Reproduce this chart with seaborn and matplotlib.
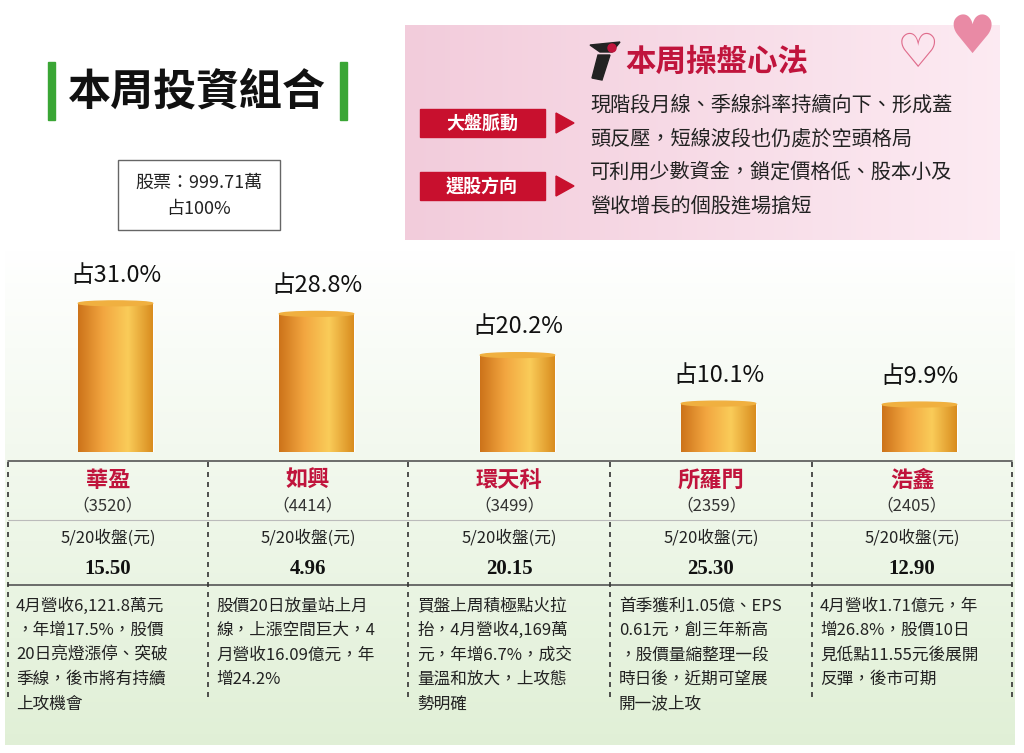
import matplotlib
matplotlib.use("Agg")
import matplotlib.pyplot as plt
import seaborn as sns
import numpy as np
import pandas as pd
from matplotlib.patches import Rectangle, Ellipse, Polygon, Circle

sns.set_theme(style="white")
plt.rcParams['font.family'] = ['Noto Sans CJK TC', 'DejaVu Sans']

names = ["華盈", "如興", "環天科", "所羅門", "浩鑫"]
codes = ["3520", "4414", "3499", "2359", "2405"]
shares = [31.0, 28.8, 20.2, 10.1, 9.9]
prices = ["15.50", "4.96", "20.15", "25.30", "12.90"]
notes = [
    ["4月營收6,121.8萬元", "，年增17.5%，股價", "20日亮燈漲停、突破", "季線，後市將有持續", "上攻機會"],
    ["股價20日放量站上月", "線，上漲空間巨大，4", "月營收16.09億元，年", "增24.2%"],
    ["買盤上周積極點火拉", "抬，4月營收4,169萬", "元，年增6.7%，成交", "量溫和放大，上攻態", "勢明確"],
    ["首季獲利1.05億、EPS", "0.61元，創三年新高", "，股價量縮整理一段", "時日後，近期可望展", "開一波上攻"],
    ["4月營收1.71億元，年", "增26.8%，股價10日", "見低點11.55元後展開", "反彈，後市可期"],
]
strategy_lines = ["現階段月線、季線斜率持續向下、形成蓋", "頭反壓，短線波段也仍處於空頭格局",
                  "可利用少數資金，鎖定價格低、股本小及", "營收增長的個股進場搶短"]

W, H = 1024, 753
fig = plt.figure(figsize=(W/100, H/100), dpi=100)
bg = fig.add_axes([0, 0, 1, 1])
bg.set_xlim(0, W); bg.set_ylim(H, 0); bg.axis("off")

grad = np.linspace(0, 1, 256)[:, None]
top = np.array([1, 1, 1]); bot = np.array([0.88, 0.94, 0.84])
cols = top + (bot - top) * grad[..., None]
bg.imshow(cols, extent=[5, 1015, 745, 250], aspect="auto", zorder=0)

bg.add_patch(Rectangle((48, 62), 7, 58, color="#3aa635"))
bg.add_patch(Rectangle((340, 62), 7, 58, color="#3aa635"))
bg.text(197, 92, "本周投資組合", fontsize=31, fontweight="bold", ha="center", va="center", color="#111")

bg.add_patch(Rectangle((118, 160), 162, 70, fill=False, ec="#666", lw=1))
bg.text(199, 183, "股票：999.71萬", fontsize=13, ha="center", va="center", color="#222")
bg.text(199, 209, "占100%", fontsize=13, ha="center", va="center", color="#222")

pk = np.linspace(0, 1, 256)[None, :]
c0 = np.array([0.95, 0.80, 0.86]); c1 = np.array([0.99, 0.92, 0.95])
pc = c0 + (c1 - c0) * pk[..., None]
bg.imshow(pc, extent=[405, 1000, 240, 25], aspect="auto", zorder=1)
bg.text(625, 62, "本周操盤心法", fontsize=22, fontweight="bold", color="#c0143c", ha="left", va="center", zorder=3)
# small icon drawn as shapes
bg.add_patch(Polygon([[590, 45], [620, 42], [612, 52], [600, 52]], color="#222", zorder=3))
bg.add_patch(Polygon([[598, 55], [610, 55], [602, 80], [592, 78]], color="#222", zorder=3))
bg.add_patch(Circle((612, 48), 4, color="#c0143c", zorder=4))
bg.text(918, 55, "♡", fontsize=34, color="#e06c8c", ha="center", va="center", zorder=3, family=["DejaVu Sans"])
bg.text(972, 38, "♥", fontsize=38, color="#e98aa5", ha="center", va="center", zorder=3, family=["DejaVu Sans"])
for y, lab in [(123, "大盤脈動"), (186, "選股方向")]:
    bg.add_patch(Rectangle((420, y-14), 125, 28, color="#c8102e", zorder=3))
    bg.add_patch(Polygon([[556, y-10], [574, y], [556, y+10]], color="#c8102e", zorder=3))
    bg.text(482, y, lab, color="white", fontsize=13, fontweight="bold", ha="center", va="center", zorder=4)
for y, t in zip([105, 139, 172, 206], strategy_lines):
    bg.text(590, y, t, fontsize=14.5, ha="left", va="center", color="#222", zorder=3)

bg.plot([8, 1012], [461, 461], color="#555", lw=1.2)
bg.plot([8, 1012], [520, 520], color="#bbb", lw=0.8)
bg.plot([8, 1012], [585, 585], color="#555", lw=1.2)
for x in [8, 208, 408, 610, 812, 1012]:
    bg.plot([x, x], [462, 700], color="#333", lw=1.2, ls=(0, (3, 3)))
centers = [108, 308, 509, 711, 912]
for i, c in enumerate(centers):
    bg.text(c, 480, names[i], fontsize=16, color="#c0143c", ha="center", va="center", fontweight="bold")
    bg.text(c, 506, "（" + codes[i] + "）", fontsize=12, color="#333", ha="center", va="center")
    bg.text(c, 538, "5/20收盤(元)", fontsize=12, color="#222", ha="center", va="center")
    bg.text(c, 569, prices[i], fontsize=15, color="#111", ha="center", va="center",
            fontweight="bold", family=["Liberation Serif"])
    for j, line in enumerate(notes[i]):
        bg.text(c-92, 606 + j*24.5, line, fontsize=12, color="#222", ha="left", va="center")

ax = fig.add_axes([15/W, 1-452/H, 1005/W, 212/H])
ax.patch.set_alpha(0)
df = pd.DataFrame({"name": names, "share": shares})
sns.barplot(data=df, x="name", y="share", color="#e0902a", width=0.37, ax=ax, saturation=1)
ax.set_xlim(-0.5, 4.5); ax.set_ylim(0, 44.2)
ax.axis("off")
hg = np.linspace(0, 1, 256)
gcol = np.array([[0.80, 0.45, 0.10], [0.95, 0.65, 0.25], [0.98, 0.80, 0.35], [0.85, 0.55, 0.12]])
xs = np.linspace(0, 1, 4)
img = np.stack([np.interp(hg, xs, gcol[:, k]) for k in range(3)], axis=-1)[None, :, :]
for p, v in zip(ax.patches, shares):
    x0, w = p.get_x(), p.get_width()
    im = ax.imshow(img, extent=[x0, x0+w, 0, v], aspect="auto", zorder=3)
    im.set_clip_path(p)
    ax.add_patch(Ellipse((x0+w/2, v), w, 1.0, color="#f0b040", zorder=4))
    ax.text(x0+w/2, v+3.5, f"占{v:.1f}%", fontsize=17, ha="center", va="bottom", color="#111")
fig.savefig("out.png", dpi=100)
